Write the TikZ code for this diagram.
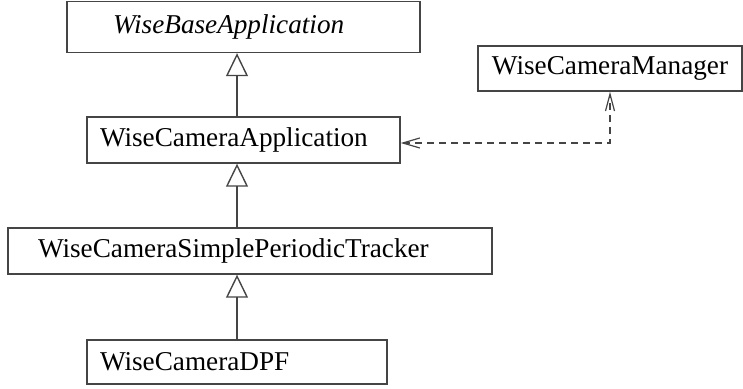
\documentclass[tikz,border=0pt]{standalone}
\usepackage{fontspec}
\setmainfont{Liberation Serif}
\usetikzlibrary{arrows.meta,positioning,calc}
\definecolor{umlline}{HTML}{454545}

\begin{document}
\begin{tikzpicture}[x=0.5pt,y=-0.5pt,
      cls/.style={draw=umlline,line width=0.7pt,align=left,font=\fontsize{13.6}{16}\selectfont},
      inherit/.style={-{Triangle[open,length=11.5pt,width=11pt,fill=white]},draw=umlline,line width=0.7pt},
      dep/.style={{Straight Barb[length=8.5pt,width=5pt]}-{Straight Barb[length=8.5pt,width=4.5pt]},dash pattern=on 3.5pt off 2.5pt,draw=umlline,line width=0.6pt}]
    \useasboundingbox (0,0) rectangle (743,389);
    % class boxes
    \node[cls,inner xsep=23pt,text width=130.5pt,minimum height=25.5pt] (base) at (243.5,27) {\textit{WiseBaseApplication}};
    \node[cls,inner xsep=6.5pt,text width=143.5pt,minimum height=23pt] (app) at (243.5,140) {WiseCameraApplication};
    \node[cls,inner xsep=15pt,text width=212pt,minimum height=23pt] (tracker) at (250,251) {WiseCameraSimplePeriodicTracker};
    \node[cls,inner xsep=6.5pt,text width=137pt,minimum height=22pt] (dpf) at (237,362) {WiseCameraDPF};
    \node[cls,align=center,minimum width=132pt,minimum height=22.5pt] (mgr) at (610,68.5) {WiseCameraManager};
    % generalisation
    \draw[inherit] (dpf.north) -- (tracker.south -| dpf.north);
    \draw[inherit] (tracker.north -| dpf.north) -- (app.south -| dpf.north);
    \draw[inherit] (app.north -| dpf.north) -- (base.south -| dpf.north);
    % dependency
    \draw[dep] ($(app.east)+(0,3)$) -| (mgr.south);
\end{tikzpicture}
\end{document}
